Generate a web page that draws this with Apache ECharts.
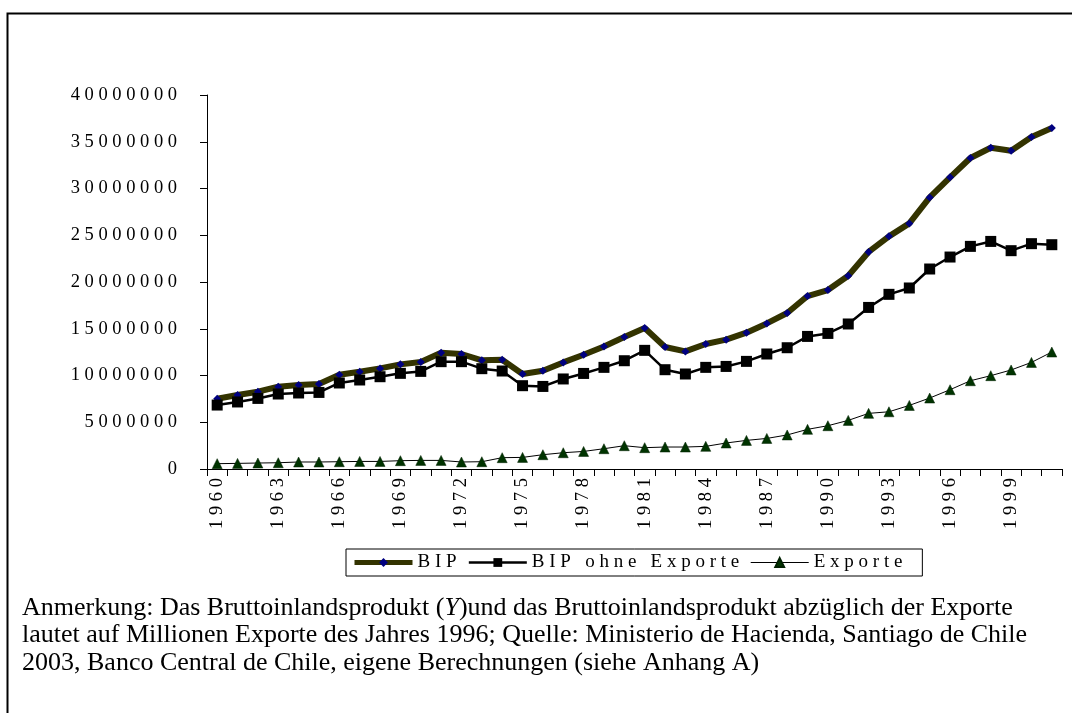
<!DOCTYPE html>
<html>
<head>
<meta charset="utf-8">
<script src="https://cdn.jsdelivr.net/npm/echarts@6/dist/echarts.min.js"></script>
<style>
html,body{margin:0;padding:0;background:#fff;}
#chart{width:1072px;height:713px;}
</style>
</head>
<body>
<div id="chart"></div>
<script>
const years = ['1960','1961','1962','1963','1964','1965','1966','1967','1968','1969',
  '1970','1971','1972','1973','1974','1975','1976','1977','1978','1979',
  '1980','1981','1982','1983','1984','1985','1986','1987','1988','1989',
  '1990','1991','1992','1993','1994','1995','1996','1997','1998','1999',
  '2000','2001'];
const bip = [7520000,7910000,8270000,8800000,8980000,9090000,10080000,10410000,10760000,11190000,
  11440000,12440000,12300000,11620000,11690000,10160000,10510000,11400000,12220000,13110000,
  14120000,15080000,13050000,12580000,13370000,13830000,14580000,15570000,16680000,18500000,
  19140000,20670000,23210000,24880000,26270000,29050000,31190000,33260000,34360000,34040000,
  35510000,36470000];
const bipOhne = [6840000,7170000,7550000,8020000,8130000,8190000,9200000,9520000,9870000,10230000,
  10440000,11480000,11480000,10730000,10480000,8910000,8830000,9630000,10220000,10870000,
  11580000,12690000,10620000,10160000,10870000,10970000,11510000,12300000,12970000,14180000,
  14500000,15510000,17280000,18680000,19360000,21390000,22670000,23810000,24340000,23350000,
  24100000,23990000];
const exporte = [570000,600000,640000,670000,750000,750000,780000,810000,810000,890000,
  920000,920000,750000,780000,1210000,1240000,1530000,1740000,1880000,2170000,
  2490000,2280000,2350000,2350000,2420000,2780000,3060000,3270000,3640000,4240000,
  4630000,5200000,5950000,6120000,6800000,7590000,8480000,9440000,9980000,10590000,
  11400000,12510000];
const seriesNames = ['BIP','BIP ohne Exporte','Exporte'];
const yTicks = {min:0, max:40000000, interval:5000000};

const FONT = "'Liberation Serif','Times New Roman',serif";
const spaced = s => String(s).split('').join(' ');

const chart = echarts.init(document.getElementById('chart'), null, {renderer:'canvas'});
chart.setOption({
  animation:false,
  backgroundColor:'#ffffff',
  textStyle:{fontFamily:FONT},
  grid:{left:207, right:10, top:95, bottom:244, containLabel:false},
  legend:{
    left:346, top:549,
    data:[
      {name:seriesNames[0], lineStyle:{width:5, color:'#333300'}},
      {name:seriesNames[1], lineStyle:{width:2.5, color:'#000'}},
      {name:seriesNames[2], lineStyle:{width:1, color:'#000'}}
    ],
    formatter: n => spaced(n),
    itemWidth:58, itemHeight:11, itemGap:11,
    padding:[4,20,4,6],
    borderColor:'#000', borderWidth:1,
    textStyle:{fontFamily:FONT, fontSize:19, color:'#000'}
  },
  xAxis:{
    type:'category', data:years, boundaryGap:true,
    axisLine:{lineStyle:{color:'#000', width:1}},
    axisTick:{show:true, interval:0, length:7, lineStyle:{color:'#000'}},
    axisLabel:{interval:2, rotate:90, margin:9, color:'#000', fontFamily:FONT, fontSize:18.5,
      formatter: v => spaced(v)},
    splitLine:{show:false}
  },
  yAxis:{
    type:'value', min:yTicks.min, max:yTicks.max, interval:yTicks.interval,
    axisLine:{show:true, lineStyle:{color:'#000', width:1}},
    axisTick:{show:true, length:7, lineStyle:{color:'#000'}},
    axisLabel:{margin:30, color:'#000', fontFamily:FONT, fontSize:18.5,
      formatter: v => spaced(v)},
    splitLine:{show:false}
  },
  series:[
    {name:seriesNames[0], type:'line', data:bip, symbol:'diamond', symbolSize:[8,8],
      lineStyle:{color:'#333300', width:6}, itemStyle:{color:'#000080'}, z:2},
    {name:seriesNames[1], type:'line', data:bipOhne, symbol:'rect', symbolSize:11,
      lineStyle:{color:'#000000', width:2.5}, itemStyle:{color:'#000000'}, z:3},
    {name:seriesNames[2], type:'line', data:exporte, symbol:'triangle', symbolSize:10,
      lineStyle:{color:'#000000', width:1}, itemStyle:{color:'#003300', borderColor:'#002000', borderWidth:0.5}, z:4}
  ],
  graphic:[
    {type:'rect', left:5, top:11, silent:true,
      shape:{width:1100, height:760},
      style:{fill:null, stroke:'#000', lineWidth:2}},
    {type:'text', left:22, top:595, silent:true,
      style:{
        text:'{a|Anmerkung: Das Bruttoinlandsprodukt (}{i|Y}{a|)und das Bruttoinlandsprodukt abzüglich der Exporte}\n{a|lautet auf Millionen Exporte des Jahres 1996; Quelle: Ministerio de Hacienda, Santiago de Chile}\n{a|2003, Banco Central de Chile, eigene Berechnungen (siehe Anhang A)}',
        rich:{
          a:{fontFamily:FONT, fontSize:26, lineHeight:27.5, fill:'#000'},
          i:{fontFamily:FONT, fontSize:26, lineHeight:27.5, fontStyle:'italic', fill:'#000'}
        }
      }}
  ]
});
</script>
</body>
</html>
